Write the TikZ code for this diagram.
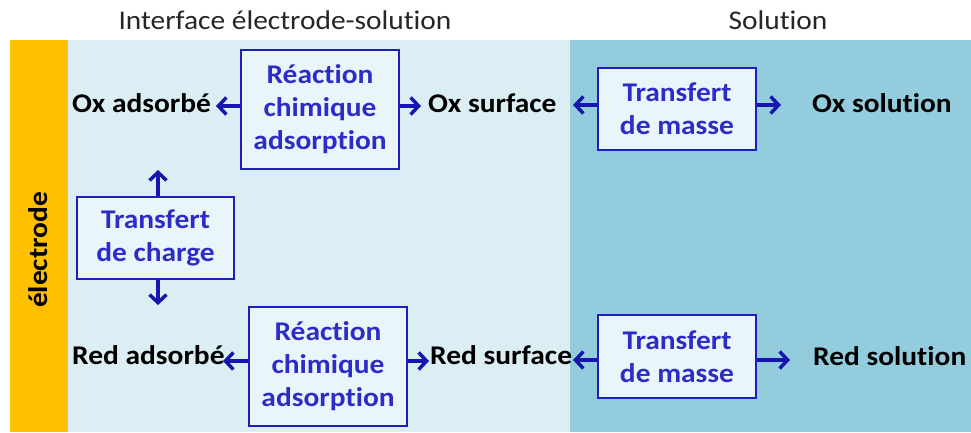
\documentclass[tikz,border=0pt]{standalone}
\usepackage{fontspec}
\setmainfont{Carlito}[FakeStretch=1.09, RawFeature=-liga]
\usetikzlibrary{arrows.meta}
\definecolor{orangebar}{HTML}{FFC000}
\definecolor{lightzone}{HTML}{DBEEF4}
\definecolor{darkzone}{HTML}{93CDDD}
\definecolor{boxfill}{HTML}{EAF5F9}
\definecolor{boxline}{RGB}{30,30,190}
\definecolor{boxtext}{RGB}{44,44,200}
\definecolor{arrowcol}{RGB}{22,22,175}
\begin{document}
\begin{tikzpicture}[x=1pt,y=-1pt,
  procbox/.style={draw=boxline, line width=2pt, fill=boxfill, text=boxtext,
    font=\fontsize{27}{33}\selectfont\bfseries, align=center, inner sep=0pt},
  species/.style={font=\fontsize{27}{33}\selectfont\bfseries, text=black, inner sep=0pt},
  zonetitle/.style={font=\fontsize{27}{33}\selectfont, text=black!85, inner sep=0pt},
  arr/.style={draw=arrowcol, line width=3.5pt, -{Straight Barb[length=8pt,width=17pt,line width=3.5pt]}}]
\useasboundingbox (0,0) rectangle (971,432);
\fill[white] (0,0) rectangle (971,432);
% zones
\fill[orangebar] (10,40) rectangle (68,432);
\fill[lightzone] (68,40) rectangle (570,432);
\fill[darkzone] (570,40) rectangle (971,432);
% titles
\node[zonetitle] (t1) at (285,20) {Interface électrode-solution};
\node[zonetitle] (t2) at (778,20) {Solution};
\node[species, rotate=90] (elec) at (38,250) {électrode};
% boxes
\node[procbox, minimum width=158pt, minimum height=119pt] (r1) at (320,109.5) {Réaction\\chimique\\adsorption};
\node[procbox, minimum width=158pt, minimum height=82pt] (m1) at (677,109) {Transfert\\de masse};
\node[procbox, minimum width=157pt, minimum height=82pt] (c1) at (155.5,238) {Transfert\\de charge};
\node[procbox, minimum width=158pt, minimum height=119pt] (r2) at (328,366.5) {Réaction\\chimique\\adsorption};
\node[procbox, minimum width=158pt, minimum height=83pt] (m2) at (677,356.5) {Transfert\\de masse};
% species
\node[species, anchor=west] (oxa) at (72,103) {Ox adsorbé};
\node[species, anchor=west] (oxs) at (428,103) {Ox surface};
\node[species, anchor=west] (oxl) at (812,103) {Ox solution};
\node[species, anchor=west] (rda) at (72,355) {Red adsorbé};
\node[species, anchor=west] (rds) at (430,355) {Red surface};
\node[species, anchor=west] (rdl) at (813,356) {Red solution};
% arrow tips
\coordinate (a1) at (216,106);
\coordinate (a2) at (421,106);
\coordinate (a3) at (573,105);
\coordinate (a4) at (781,105);
\coordinate (a5) at (158,170);
\coordinate (a6) at (158,305);
\coordinate (a7) at (223,361);
\coordinate (a8) at (429,361);
\coordinate (a9) at (573,360);
\coordinate (a10) at (790,360);
% connectors
\draw[arr] (r1.west |- a1) -- (a1);
\draw[arr] (r1.east |- a2) -- (a2);
\draw[arr] (m1.west |- a3) -- (a3);
\draw[arr] (m1.east |- a4) -- (a4);
\draw[arr] (c1.north -| a5) -- (a5);
\draw[arr] (c1.south -| a6) -- (a6);
\draw[arr] (r2.west |- a7) -- (a7);
\draw[arr] (r2.east |- a8) -- (a8);
\draw[arr] (m2.west |- a9) -- (a9);
\draw[arr] (m2.east |- a10) -- (a10);
\end{tikzpicture}
\end{document}
